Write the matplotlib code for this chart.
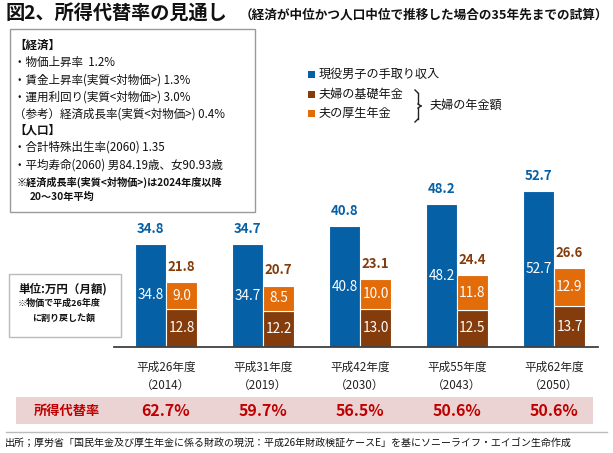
import matplotlib
matplotlib.use("Agg")
import matplotlib.pyplot as plt
from matplotlib.patches import Rectangle
from matplotlib.lines import Line2D
from matplotlib.transforms import blended_transform_factory

plt.rcParams['font.family'] = ['Noto Sans CJK JP', 'DejaVu Sans']

# ---- data ----
categories = ["平成26年度", "平成31年度", "平成42年度", "平成55年度", "平成62年度"]
years = ["2014", "2019", "2030", "2043", "2050"]
takehome = [34.8, 34.7, 40.8, 48.2, 52.7]
basic_pension = [12.8, 12.2, 13.0, 12.5, 13.7]
employee_pension = [9.0, 8.5, 10.0, 11.8, 12.9]
pension_total = [21.8, 20.7, 23.1, 24.4, 26.6]
replacement_rate = [62.7, 59.7, 56.5, 50.6, 50.6]
legend_labels = ["現役男子の手取り収入", "夫婦の基礎年金", "夫の厚生年金"]

BLUE = "#0560A6"
BROWN = "#843C0C"
ORANGE = "#E26B0A"
RED = "#C00000"
BAND = "#EBD3D3"

W, H = 613, 453
fig = plt.figure(figsize=(W / 100, H / 100), dpi=100)


def fx(x):
    return x / W


def fy(y):
    return 1 - y / H


def ftext(x, y, s, **kw):
    fig.text(fx(x), fy(y), s, **kw)


# ---- axes ----
ax_left, ax_right, base_y, top_y = 114, 598, 347, 150
ax = fig.add_axes([fx(ax_left), fy(base_y), (ax_right - ax_left) / W, (base_y - top_y) / H])
ax.set_ylim(0, (base_y - top_y) / 2.96)
ax.set_xlim(-0.536, 4.454)
for s in ["top", "right", "left"]:
    ax.spines[s].set_visible(False)
ax.spines["bottom"].set_color("#404040")
ax.spines["bottom"].set_linewidth(1.3)
ax.set_xticks([])
ax.set_yticks([])
ax.patch.set_alpha(0)

bw = 0.32
xs = list(range(len(categories)))
xb = [x - bw / 2 for x in xs]
xp = [x + bw / 2 for x in xs]
ax.bar(xb, takehome, width=bw, color=BLUE, edgecolor="white", linewidth=0.8)
ax.bar(xp, basic_pension, width=bw, color=BROWN, edgecolor="white", linewidth=0.8)
ax.bar(xp, employee_pension, width=bw, bottom=basic_pension, color=ORANGE,
       edgecolor="white", linewidth=0.8)

for i in xs:
    ax.annotate(f"{takehome[i]:.1f}", (xb[i], takehome[i]), xytext=(0, 11),
                textcoords="offset points", ha="center", va="center",
                color=BLUE, fontsize=9.5, fontweight="bold")
    ax.annotate(f"{pension_total[i]:.1f}", (xp[i], basic_pension[i] + employee_pension[i]),
                xytext=(0, 11), textcoords="offset points", ha="center", va="center",
                color=BROWN, fontsize=9.5, fontweight="bold")
    ax.text(xb[i], takehome[i] / 2, f"{takehome[i]:.1f}", ha="center", va="center",
            color="white", fontsize=9.8)
    ax.text(xp[i], basic_pension[i] / 2, f"{basic_pension[i]:.1f}", ha="center", va="center",
            color="white", fontsize=9.8)
    ax.text(xp[i], basic_pension[i] + employee_pension[i] / 2, f"{employee_pension[i]:.1f}",
            ha="center", va="center", color="white", fontsize=9.8)

# ---- category labels and replacement rate band ----
tr = blended_transform_factory(ax.transData, fig.transFigure)
fig.patches.append(Rectangle((fx(16), fy(424)), fx(593) - fx(16), fy(397) - fy(424),
                             transform=fig.transFigure, facecolor=BAND, edgecolor="none"))
for i in xs:
    fig.text(xs[i], fy(367), categories[i], transform=tr, ha="center", va="center",
             fontsize=8.4, color="#222222")
    fig.text(xs[i], fy(386), f"（{years[i]}）", transform=tr, ha="center", va="center",
             fontsize=8.4, color="#222222")
    fig.text(xs[i], fy(411), f"{replacement_rate[i]:.1f}%", transform=tr, ha="center",
             va="center", fontsize=11.5, fontweight="bold", color=RED)
ftext(67, 411, "所得代替率", ha="center", va="center", fontsize=9.5, fontweight="bold", color=RED)
fig.add_artist(Line2D([fx(6), fx(607)], [fy(432), fy(432)], color="#BBBBBB", lw=1,
                      transform=fig.transFigure))
ftext(5, 444, "出所；厚労省「国民年金及び厚生年金に係る財政の現況：平成26年財政検証ケースE」を基にソニーライフ・エイゴン生命作成",
      ha="left", va="center", fontsize=7.2, color="#111111")

# ---- title ----
ftext(6, 13, "図2、所得代替率の見通し", ha="left", va="center", fontsize=13.8,
      fontweight="bold", color="#111111")
ftext(240, 15, "（経済が中位かつ人口中位で推移した場合の35年先までの試算）", ha="left",
      va="center", fontsize=9.1, fontweight="bold", color="#111111")

# ---- assumptions box ----
fig.patches.append(Rectangle((fx(10), fy(212)), fx(255) - fx(10), fy(29) - fy(212),
                             transform=fig.transFigure, facecolor="white",
                             edgecolor="#9A9A9A", linewidth=1))
box_lines = [
    (45, "【経済】", "bold", 8.3, 14),
    (62, "・物価上昇率  1.2%", "normal", 8.3, 14),
    (80, "・賃金上昇率(実質<対物価>) 1.3%", "normal", 8.3, 14),
    (97, "・運用利回り(実質<対物価>) 3.0%", "normal", 8.3, 14),
    (114, "（参考）経済成長率(実質<対物価>) 0.4%", "normal", 8.3, 14),
    (130, "【人口】", "bold", 8.3, 14),
    (147, "・合計特殊出生率(2060) 1.35", "normal", 8.3, 14),
    (165, "・平均寿命(2060) 男84.19歳、女90.93歳", "normal", 8.3, 14),
    (182, "※経済成長率(実質<対物価>)は2024年度以降", "bold", 7.3, 17),
    (197, "20～30年平均", "bold", 7.3, 30),
]
for y, s, wt, fs, x in box_lines:
    ftext(x, y, s, ha="left", va="center", fontsize=fs, fontweight=wt, color="#111111")

# ---- unit box ----
fig.patches.append(Rectangle((fx(9), fy(337)), fx(121) - fx(9), fy(274) - fy(337),
                             transform=fig.transFigure, facecolor="white",
                             edgecolor="#BBBBBB", linewidth=1))
ftext(18, 289, "単位:万円（月額)", ha="left", va="center", fontsize=8.3, fontweight="bold",
      color="#111111")
ftext(18, 303, "※物価で平成26年度", ha="left", va="center", fontsize=6.5, fontweight="bold",
      color="#111111")
ftext(32, 318, "に割り戻した額", ha="left", va="center", fontsize=6.5, fontweight="bold",
      color="#111111")

# ---- legend ----
leg_y = [74, 94, 113]
leg_c = [BLUE, BROWN, ORANGE]
for y, c, s in zip(leg_y, leg_c, legend_labels):
    fig.patches.append(Rectangle((fx(308), fy(y + 3.5)), fx(7), fy(0) - fy(7),
                                 transform=fig.transFigure, facecolor=c, edgecolor="none"))
    ftext(319, y, s, ha="left", va="center", fontsize=8.7, color="#111111")
# brace
bx, by0, by1 = 418, 90, 122
bm = (by0 + by1) / 2
brace = [([bx - 3, bx], [by0, by0 + 3]), ([bx, bx], [by0 + 3, bm - 2]),
         ([bx, bx + 3], [bm - 2, bm]), ([bx + 3, bx], [bm, bm + 2]),
         ([bx, bx], [bm + 2, by1 - 3]), ([bx, bx - 3], [by1 - 3, by1])]
for xx, yy in brace:
    fig.add_artist(Line2D([fx(v) for v in xx], [fy(v) for v in yy], color="#222222",
                          lw=1, transform=fig.transFigure))
ftext(430, 105, "夫婦の年金額", ha="left", va="center", fontsize=8.7, color="#111111")

fig.savefig("out.png", dpi=100, facecolor="white")
